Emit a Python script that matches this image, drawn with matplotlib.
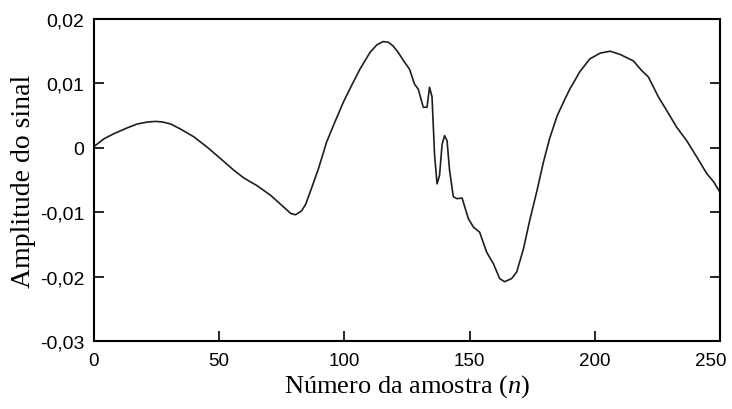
import matplotlib
matplotlib.use("Agg")
import matplotlib.pyplot as plt
import matplotlib.transforms as mtransforms
from matplotlib.ticker import FixedLocator

plt.rcParams["mathtext.fontset"] = "custom"
plt.rcParams["mathtext.rm"] = "Liberation Serif"
plt.rcParams["mathtext.it"] = "Liberation Serif:italic"

n = [0, 4, 8, 13.3, 17.3, 21.3, 24.6, 27.5, 30.6, 34.6, 39.9, 45.2, 50.6, 55.9, 59.9,
     65.2, 70.6, 74.6, 78.6, 80.5, 82.9, 84.5, 86.3, 89.6, 92.9, 96.2, 99.6, 102.9,
     106.2, 110.2, 113, 115.5, 117.5, 119.5, 121.5, 123.5, 126, 128, 129.5, 131.5,
     133, 134, 135, 136, 137, 138, 139, 140, 141, 142, 143.5, 145, 147, 149.5, 151.5,
     154, 156.8, 159.5, 162, 164, 166.8, 168.8, 171.5, 174, 177, 179.5, 182, 185, 188,
     190, 194, 198, 202.1, 206.1, 210.1, 215.4, 218.7, 221.4, 225.4, 228.7, 232.7,
     236.7, 240.7, 244.7, 247.5, 250]
amp = [0.0002, 0.0014, 0.0022, 0.0031, 0.0037, 0.0040, 0.0041, 0.0040, 0.0037, 0.0029,
       0.0017, 0.0001, -0.0017, -0.0035, -0.0047, -0.0059, -0.0074, -0.0088, -0.0102, -0.0104,
       -0.0098, -0.0088, -0.0069, -0.0033, 0.0009, 0.0040, 0.0071, 0.0097, 0.0122, 0.0148,
       0.0160, 0.0165, 0.0164, 0.0158, 0.0148, 0.0136, 0.0122, 0.0099, 0.0091, 0.0063,
       0.0063, 0.0094, 0.0079, -0.0010, -0.0056, -0.0043, 0.0005, 0.0019, 0.0011, -0.0035,
       -0.0076, -0.0079, -0.0078, -0.0110, -0.0123, -0.0131, -0.0162, -0.0180, -0.0203, -0.0208,
       -0.0203, -0.0193, -0.0157, -0.0113, -0.0065, -0.0022, 0.0015, 0.0050, 0.0075, 0.0091,
       0.0118, 0.0138, 0.0147, 0.0150, 0.0145, 0.0135, 0.0120, 0.0110, 0.0079, 0.0058,
       0.0032, 0.0011, -0.0014, -0.0040, -0.0053, -0.0069]

xticks = [0, 50, 100, 150, 200, 250]
xticklabels = ["0", "50", "100", "150", "200", "250"]
yticks = [-0.03, -0.02, -0.01, 0, 0.01, 0.02]
yticklabels = ["-0,03", "-0,02", "-0,01", "0", "0,01", "0,02"]

fig = plt.figure(figsize=(7.32, 4.10), dpi=100)
ax = fig.add_axes([0.1284, 0.1659, 0.8552, 0.7853])
ax.plot(n, amp, color="#1e1e1e", linewidth=1.2)
ax.set_xlim(0, 250)
ax.set_ylim(-0.03, 0.02)
ax.xaxis.set_major_locator(FixedLocator(xticks))
ax.yaxis.set_major_locator(FixedLocator(yticks))
ax.set_xticklabels(xticklabels, fontfamily="Liberation Sans", fontsize=13.5)
ax.set_yticklabels(yticklabels, fontfamily="Liberation Sans", fontsize=14)
ax.tick_params(axis="x", direction="in", length=7, width=1.2, pad=8)
ax.tick_params(axis="y", direction="in", length=7, width=1.2, right=True, pad=7)
for s in ax.spines.values():
    s.set_linewidth(1.5)

# shift the last x tick label left so it stays inside the figure
last = ax.get_xticklabels()[-1]
last.set_transform(last.get_transform() + mtransforms.ScaledTranslation(-9 / 100, 0, fig.dpi_scale_trans))

ax.set_xlabel("Número da amostra ($\\mathit{n}$)", fontfamily="Liberation Serif", fontsize=19, labelpad=2)
ax.set_ylabel("Amplitude do sinal", fontfamily="Liberation Serif", fontsize=20, labelpad=3)
fig.savefig("out.png", dpi=100)
